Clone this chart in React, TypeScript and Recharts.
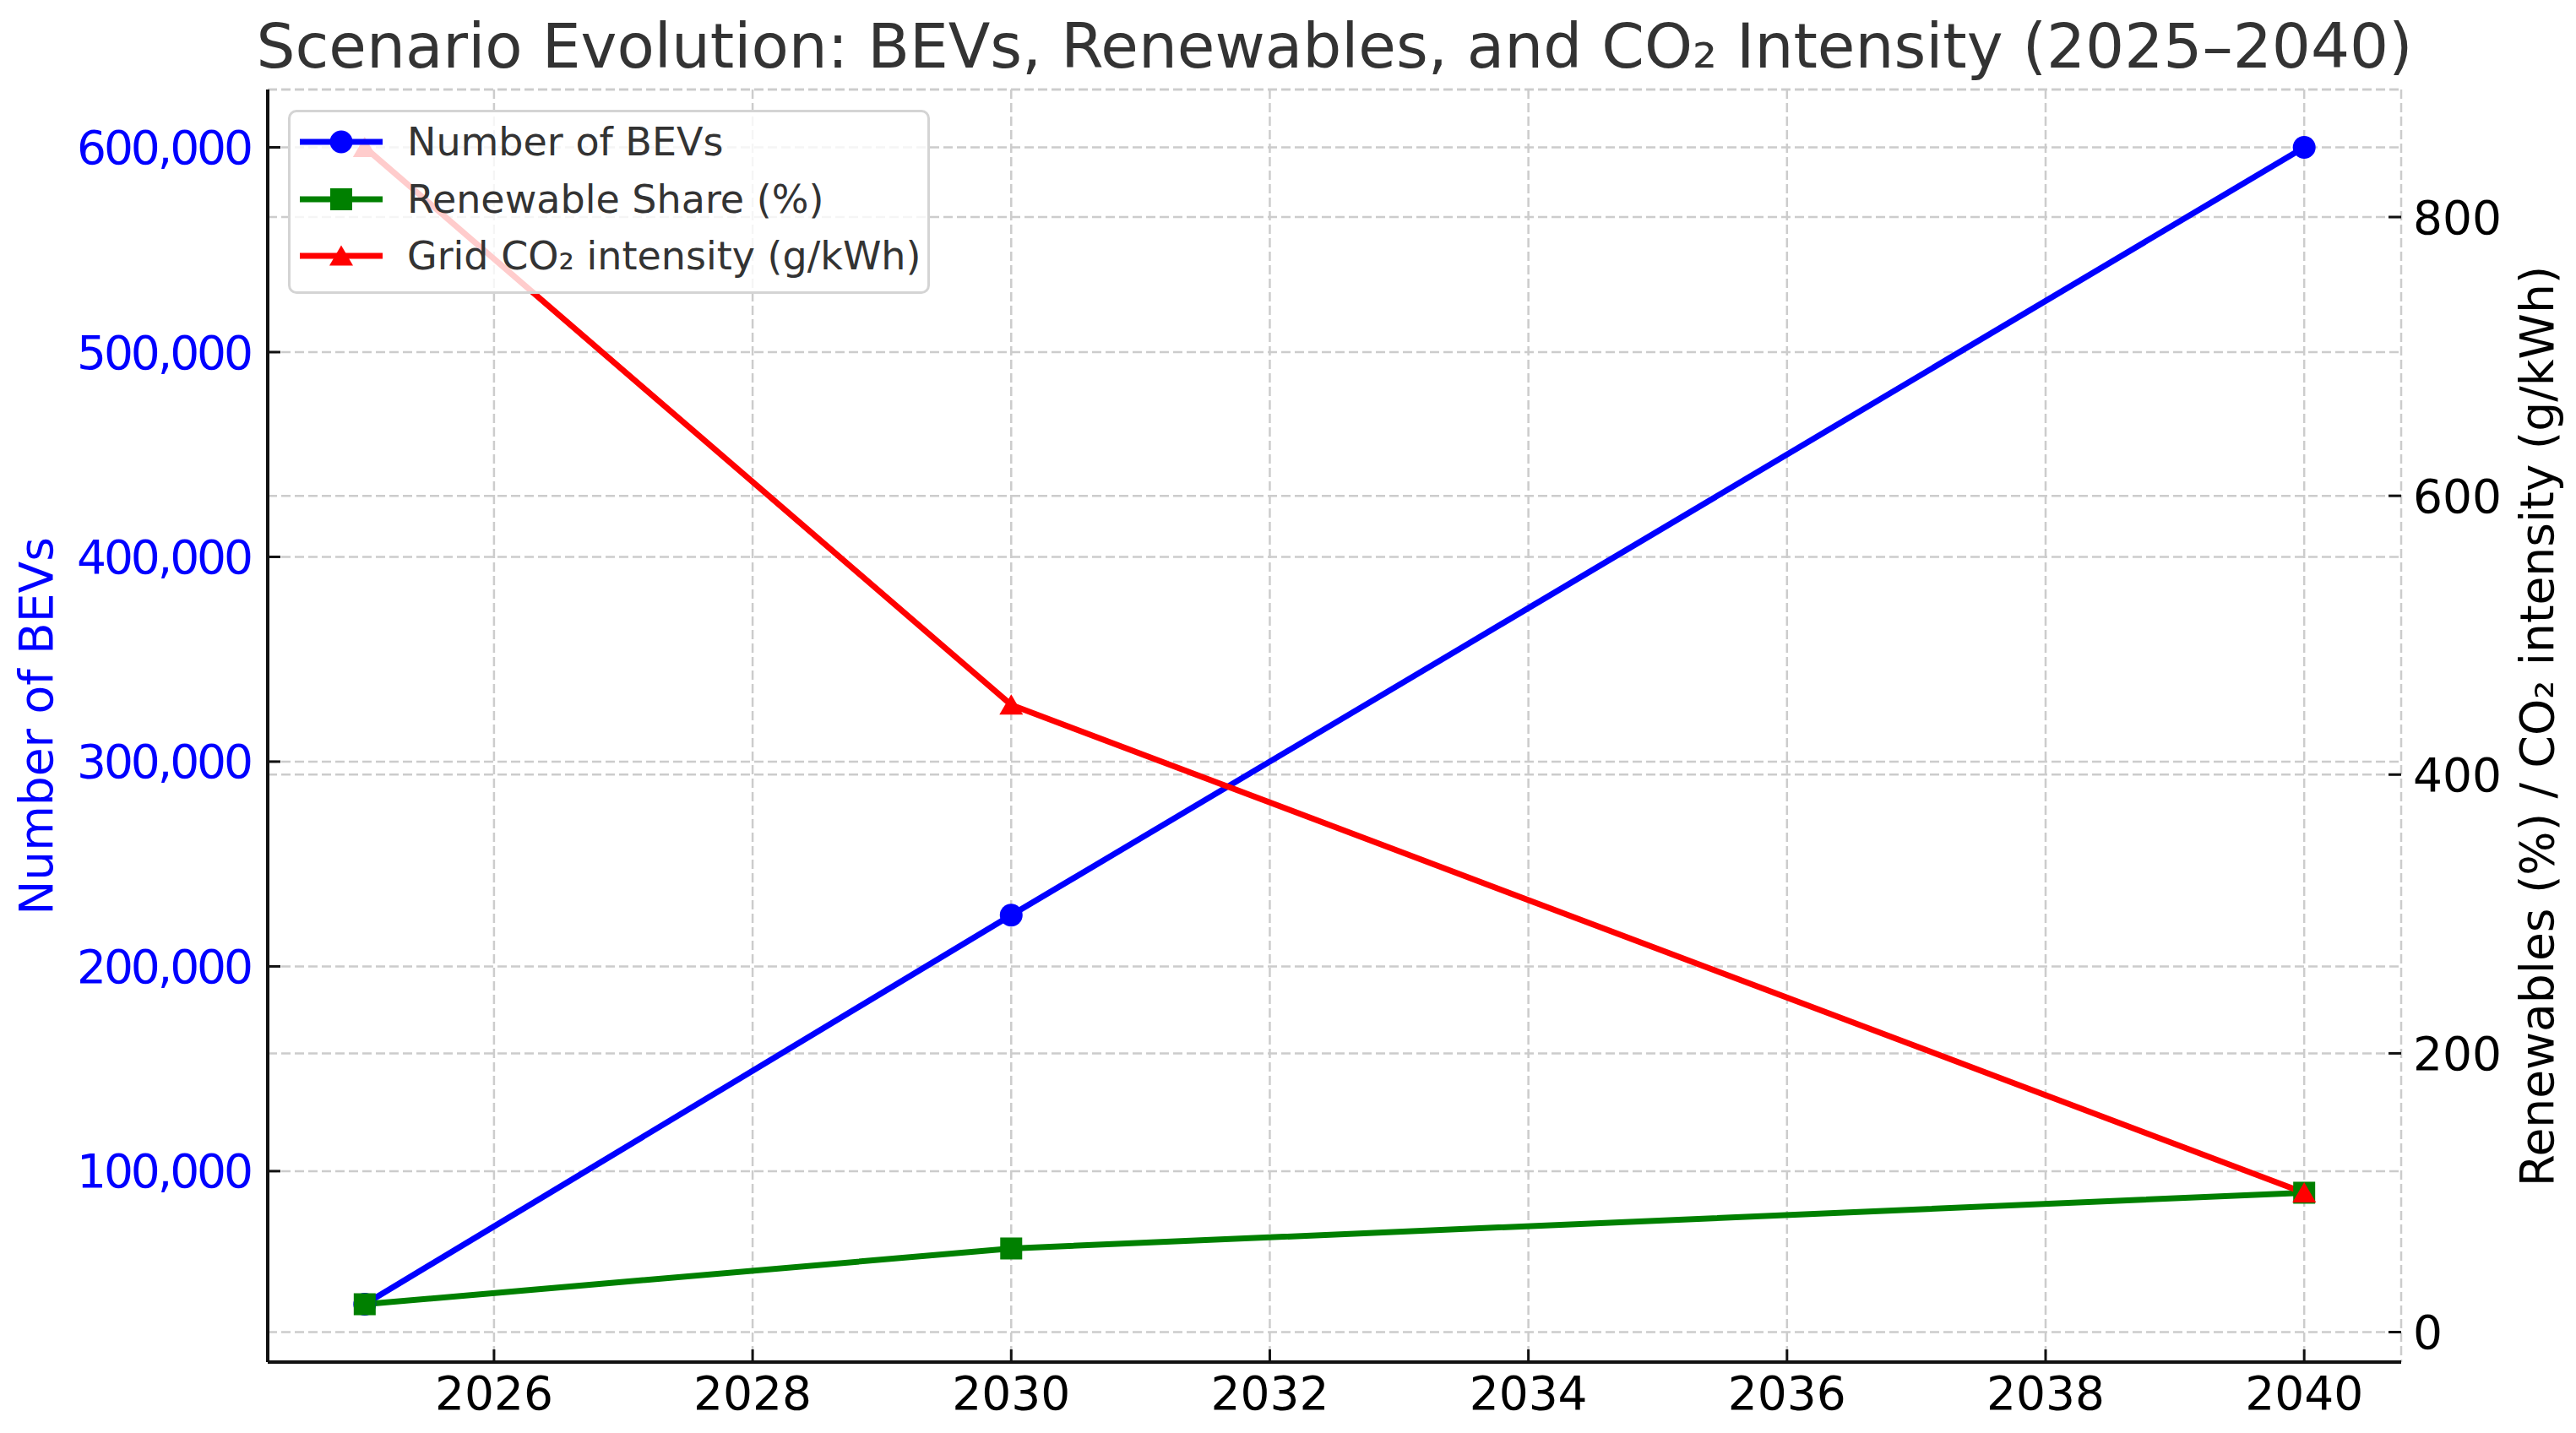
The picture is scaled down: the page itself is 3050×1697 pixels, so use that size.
import React from "react";
import {
  LineChart,
  Line,
  XAxis,
  YAxis,
  CartesianGrid,
  Legend,
} from "recharts";

const years = [2025, 2030, 2040];
const bevCounts = [35000, 225000, 600000];
const renewableShare = [20, 60, 100];
const co2Intensity = [850, 450, 100];

const xTicks = [2026, 2028, 2030, 2032, 2034, 2036, 2038, 2040];
const leftTicks = [100000, 200000, 300000, 400000, 500000, 600000];
const rightTicks = [0, 200, 400, 600, 800];

const seriesNames = [
  "Number of BEVs",
  "Renewable Share (%)",
  "Grid CO\u2082 intensity (g/kWh)",
];
const seriesColors = ["#0000ff", "#008000", "#ff0000"];
const seriesMarkers = ["circle", "square", "triangle"];

const data = years.map((year, i) => ({
  year,
  bevs: bevCounts[i],
  renewables: renewableShare[i],
  co2: co2Intensity[i],
}));

const FONT = "DejaVu Sans";
const W = 3050;
const H = 1697;

function Marker({ kind, cx, cy, color }: { kind: string; cx: number; cy: number; color: string }) {
  if (kind === "circle") return <circle cx={cx} cy={cy} r={13.5} fill={color} />;
  if (kind === "square")
    return <rect x={cx - 13} y={cy - 13} width={26} height={26} fill={color} />;
  return (
    <path
      d={`M${cx},${cy - 12.5} L${cx + 14},${cy + 11.5} L${cx - 14},${cy + 11.5} Z`}
      fill={color}
    />
  );
}

const makeDot = (kind: string, color: string) => (props: any) => {
  const { cx, cy, index } = props;
  if (cx == null || cy == null) return <g key={`d-${kind}-${index}`} />;
  return (
    <g key={`d-${kind}-${index}`}>
      <Marker kind={kind} cx={cx} cy={cy} color={color} />
    </g>
  );
};

// left tick labels are drawn a bit condensed, like in the source image
function BevTick(props: any) {
  const { x, y, payload } = props;
  return (
    <text
      x={x}
      y={y}
      dy="0.355em"
      textAnchor="end"
      fill="#0000ff"
      fontSize={55}
      fontFamily={FONT}
      textLength={209}
      lengthAdjust="spacing"
    >
      {Number(payload.value).toLocaleString("en-US")}
    </text>
  );
}

function LegendBox() {
  return (
    <div
      style={{
        position: "relative",
        width: 760,
        height: 218,
        boxSizing: "border-box",
        border: "3px solid #d4d4d4",
        borderRadius: 10,
        background: "rgba(255,255,255,0.8)",
        fontFamily: FONT,
      }}
    >
      {seriesNames.map((name, i) => (
        <div
          key={name}
          style={{
            position: "absolute",
            left: 0,
            top: 35 + i * 67.5 - 25,
            height: 50,
            width: "100%",
          }}
        >
          <svg width={98} height={50} style={{ position: "absolute", left: 10.5, top: 0 }}>
            <line x1={0} y1={25} x2={98} y2={25} stroke={seriesColors[i]} strokeWidth={7} />
            <Marker kind={seriesMarkers[i]} cx={49} cy={25} color={seriesColors[i]} />
          </svg>
          <span
            style={{
              position: "absolute",
              left: 138,
              top: 0,
              lineHeight: "50px",
              fontSize: 46,
              color: "#333333",
              whiteSpace: "nowrap",
            }}
          >
            {name}
          </span>
        </div>
      ))}
    </div>
  );
}

const gridProps = {
  stroke: "#cccccc",
  strokeWidth: 2.5,
  strokeDasharray: "11 5",
};

export default function App() {
  return (
    <div
      style={{
        position: "absolute",
        left: 0,
        top: 0,
        width: W,
        height: H,
        background: "#ffffff",
        fontFamily: FONT,
        overflow: "hidden",
      }}
    >
      <div
        style={{
          position: "absolute",
          left: 1580,
          top: 19,
          transform: "translateX(-50%)",
          fontSize: 72.5,
          lineHeight: 1,
          color: "#333333",
          whiteSpace: "nowrap",
        }}
      >
        Scenario Evolution: BEVs, Renewables, and CO{"\u2082"} Intensity (2025{"\u2013"}2040)
      </div>

      <LineChart
        width={W}
        height={H}
        data={data}
        margin={{ top: 106, right: 0, bottom: 0, left: 0 }}
        style={{ fontFamily: FONT }}
      >
        <CartesianGrid yAxisId="left" {...gridProps} />
        <CartesianGrid yAxisId="right" vertical={false} {...gridProps} />
        <XAxis
          dataKey="year"
          type="number"
          domain={[2024.25, 2040.75]}
          ticks={xTicks}
          height={84}
          tickSize={-15}
          tickMargin={32}
          tick={{ fill: "#000000", fontSize: 55, fontFamily: FONT }}
          axisLine={{ stroke: "#111111", strokeWidth: 4 }}
          tickLine={{ stroke: "#111111", strokeWidth: 3 }}
        />
        <YAxis
          yAxisId="left"
          width={317}
          domain={[6750, 628250]}
          ticks={leftTicks}
          tickSize={-15}
          tickMargin={32}
          tick={<BevTick />}
          axisLine={{ stroke: "#111111", strokeWidth: 4 }}
          tickLine={{ stroke: "#111111", strokeWidth: 3 }}
        />
        <YAxis
          yAxisId="right"
          orientation="right"
          width={207}
          domain={[-21.5, 891.5]}
          ticks={rightTicks}
          tickSize={-15}
          tickMargin={29}
          tick={{ fill: "#000000", fontSize: 55, fontFamily: FONT }}
          axisLine={false}
          tickLine={{ stroke: "#111111", strokeWidth: 3 }}
        />
        <Line
          yAxisId="left"
          type="linear"
          dataKey="bevs"
          name={seriesNames[0]}
          stroke={seriesColors[0]}
          strokeWidth={7}
          dot={makeDot(seriesMarkers[0], seriesColors[0])}
          activeDot={false}
          isAnimationActive={false}
        />
        <Line
          yAxisId="right"
          type="linear"
          dataKey="renewables"
          name={seriesNames[1]}
          stroke={seriesColors[1]}
          strokeWidth={7}
          dot={makeDot(seriesMarkers[1], seriesColors[1])}
          activeDot={false}
          isAnimationActive={false}
        />
        <Line
          yAxisId="right"
          type="linear"
          dataKey="co2"
          name={seriesNames[2]}
          stroke={seriesColors[2]}
          strokeWidth={7}
          dot={makeDot(seriesMarkers[2], seriesColors[2])}
          activeDot={false}
          isAnimationActive={false}
        />
        <Legend
          layout="vertical"
          align="center"
          verticalAlign="middle"
          content={() => <LegendBox />}
          wrapperStyle={{ position: "absolute", left: 341, top: 130, width: 760, height: 218 }}
        />
      </LineChart>

      <div
        style={{
          position: "absolute",
          left: 43,
          top: 860,
          transform: "translate(-50%, -50%) rotate(-90deg)",
          fontSize: 55,
          lineHeight: 1,
          color: "#0000ff",
          whiteSpace: "nowrap",
        }}
      >
        Number of BEVs
      </div>
      <div
        style={{
          position: "absolute",
          left: 3004,
          top: 860,
          transform: "translate(-50%, -50%) rotate(-90deg)",
          fontSize: 55,
          lineHeight: 1,
          color: "#000000",
          whiteSpace: "nowrap",
        }}
      >
        Renewables (%) / CO{"\u2082"} intensity (g/kWh)
      </div>
    </div>
  );
}
